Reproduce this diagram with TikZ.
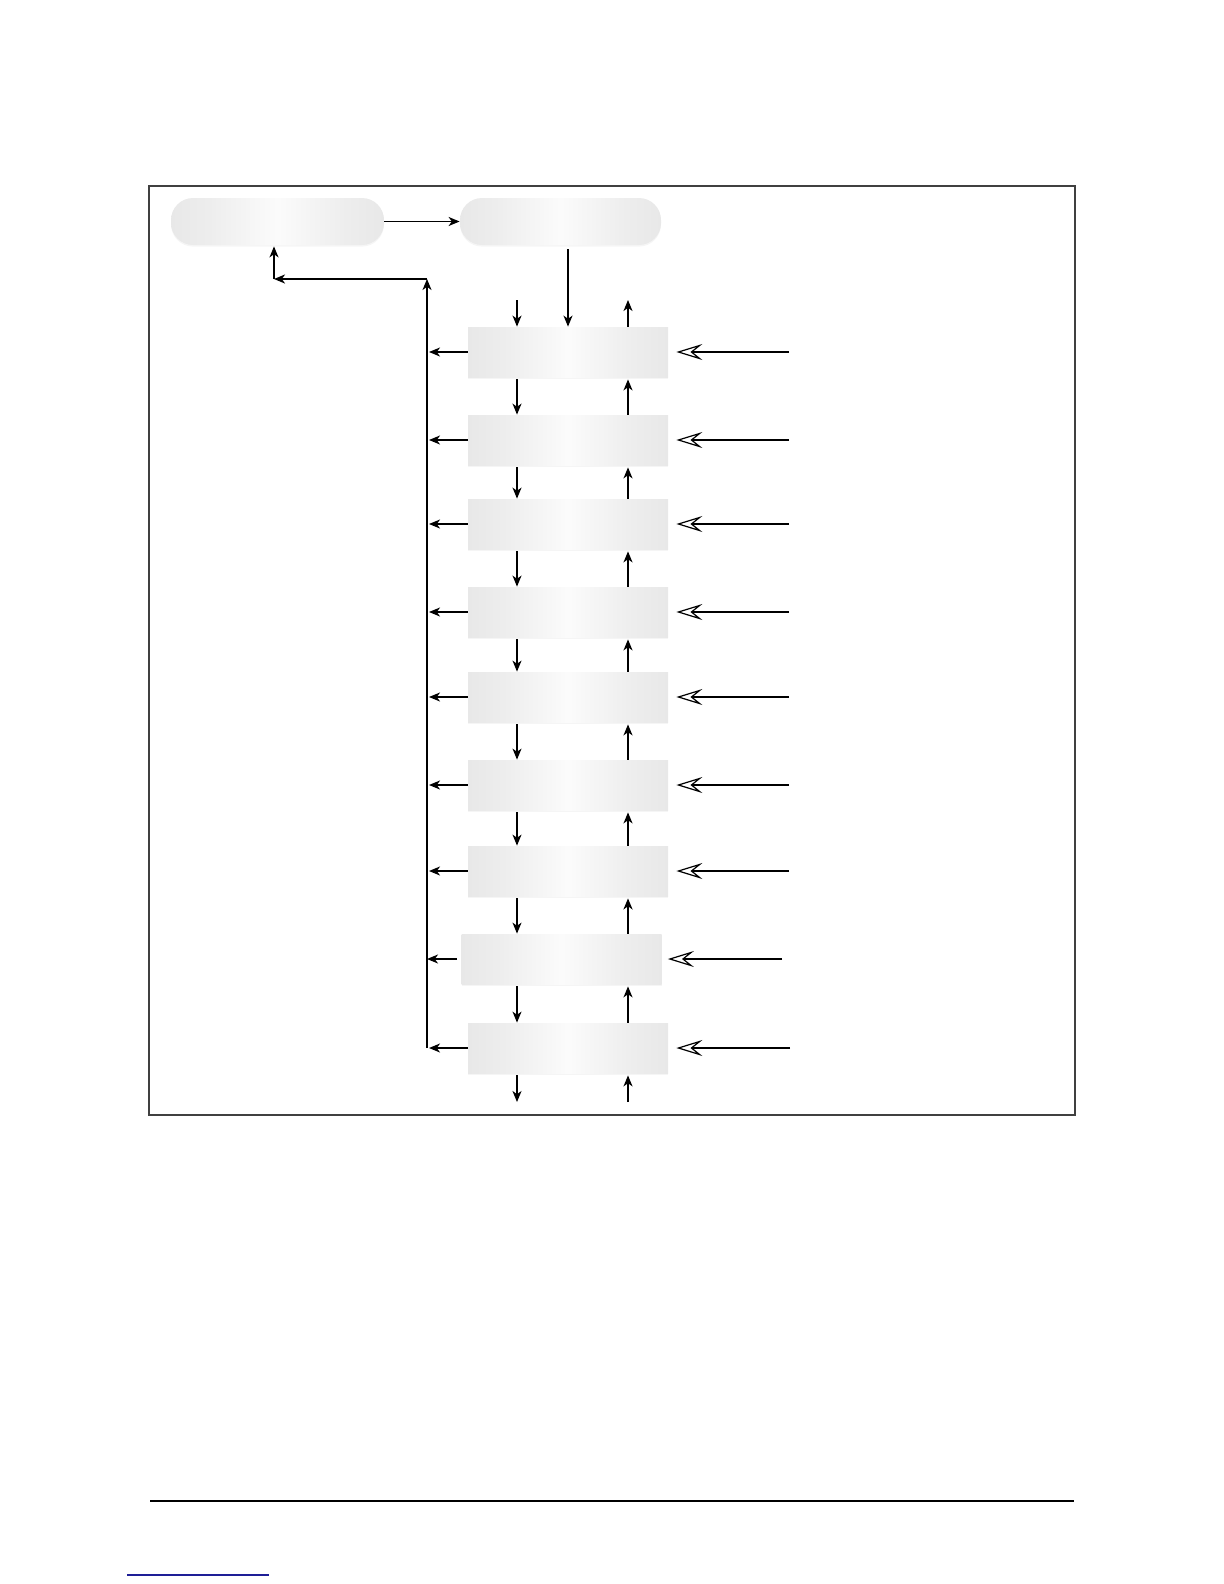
\documentclass[tikz,border=0pt]{standalone}
\usetikzlibrary{arrows.meta,shadows}
\pgfdeclarehorizontalshading{boxshade}{100bp}{color(0bp)=(black!9); color(25bp)=(black!9); color(34bp)=(black!7); color(50bp)=(black!1.5); color(66bp)=(black!7); color(75bp)=(black!9); color(100bp)=(black!9)}
\begin{document}
\begin{tikzpicture}[x=0.5pt,y=-0.5pt,
  flow/.style={-{Stealth[length=5.5pt,width=4.5pt,inset=1.6pt]}, line width=0.65pt, black},
  feed/.style={-{Stealth[open,length=13pt,width=8pt,inset=5pt,line width=0.6pt]}, line width=1.15pt, black, shorten >=4pt},
  stepbox/.style={minimum width=100pt, minimum height=25pt, inner sep=0pt,
    shading=boxshade,
    drop shadow={shadow xshift=0pt, shadow yshift=-0.8pt, opacity=0.08}},
  roundbox/.style={stepbox, rounded corners=11pt}]
\useasboundingbox (0,0) rectangle (1224,1584);
% frame
\draw[line width=1pt, black!75] (149,186) rectangle (1075,1115);
% top rounded boxes
\node[roundbox, minimum width=106.5pt, minimum height=23.5pt] (A) at (277.5,221.5) {};
\node[roundbox, minimum width=100.5pt, minimum height=23.5pt] (B) at (560.5,221.5) {};
% step boxes
\foreach \i/\y in {1/352,2/440,3/524,4/612,5/697,6/785,7/871,9/1048}
  \node[stepbox] (s\i) at (568,\y) {};
\node[stepbox] (s8) at (561.5,959) {};
% helper coordinates
\coordinate (cd) at (517,0);
\coordinate (cu) at (628,0);
\coordinate (bus) at (427,0);
\coordinate (busTop) at (427,279);
\coordinate (busBot) at (427,1048);
\coordinate (retEnd) at (274,279);
\coordinate (t1) at (517,300);
\coordinate (t2) at (628,300);
\coordinate (b1) at (517,1102);
\coordinate (b2) at (628,1102);
\foreach \i/\x/\y in {1/789/352,2/789/440,3/789/524,4/789/612,5/789/697,6/789/785,7/789/871,8/782/959,9/790/1048}
  \coordinate (f\i) at (\x,\y);
% top flow
\draw[flow] (A.east) -- (B.west);
\draw[flow, shorten <=2pt] (B.south -| s1.north) -- (s1.north);
\draw[flow] (busBot) -- (busTop);
\draw[flow, line width=1pt] (busTop) -- (retEnd);
\draw[flow, shorten >=0.5pt] (retEnd) -- (A.south -| retEnd);
% top free arrows
\draw[flow] (t1) -- (s1.north -| t1);
\draw[flow] (s1.north -| t2) -- (t2);
% left outputs to bus
\foreach \i in {1,...,7,9}
  \draw[flow, shorten >=1pt] (s\i.west) -- (s\i.west -| bus);
\draw[flow, shorten <=2pt] (s8.west) -- (s8.west -| bus);
% between boxes
\foreach \i/\j in {1/2,2/3,3/4,4/5,5/6,6/7,8/9} {
  \draw[flow, shorten <=1pt] (s\i.south -| cd) -- (s\j.north -| cd);
  \draw[flow, shorten >=1pt] (s\j.north -| cu) -- (s\i.south -| cu);
}
\draw[flow, shorten <=1pt] (s7.south -| cd) -- (s8.north -| cd);
\draw[flow, line width=1pt, shorten >=1pt] (s8.north -| cu) -- (s7.south -| cu);
% bottom free arrows
\draw[flow, shorten <=1pt] (s9.south -| b1) -- (b1);
\draw[flow, shorten >=1pt] (b2) -- (s9.south -| b2);
% right feeds
\foreach \i in {1,...,7,9}
  \draw[feed] (f\i) -- (s\i.east);
\draw[feed, shorten >=3pt] (f8) -- (s8.east);
% footer lines
\draw[line width=0.8pt] (150,1501) coordinate (fl) -- (1074,1501) coordinate (fr);
\draw[line width=0.6pt, color={rgb,255:red,30;green,30;blue,150}] (127,1575) coordinate (ll) -- (269,1575) coordinate (lr);
\end{tikzpicture}
\end{document}
